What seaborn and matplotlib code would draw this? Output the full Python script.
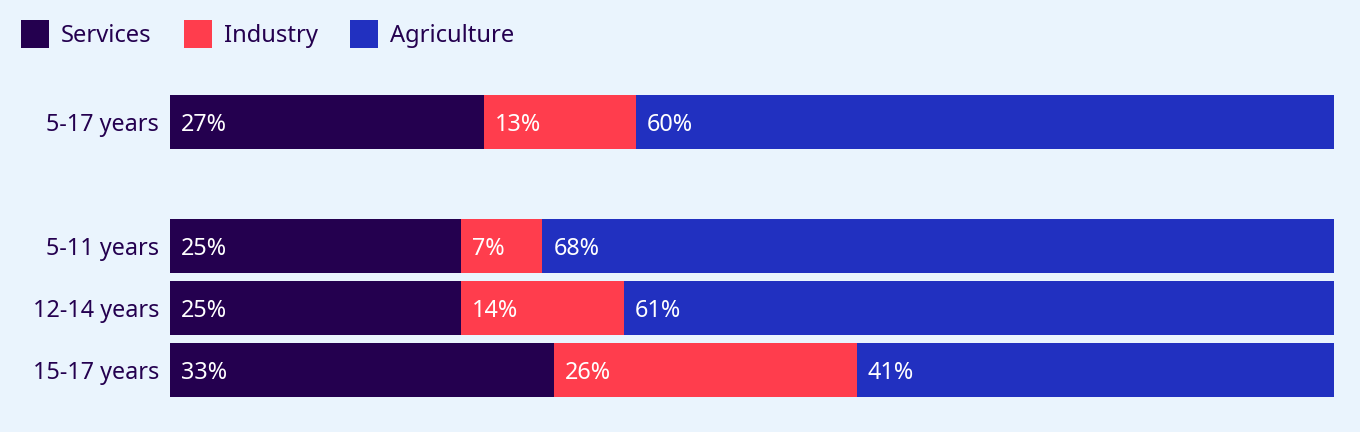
import pandas as pd
import matplotlib
matplotlib.use("Agg")
import matplotlib.pyplot as plt
import seaborn as sns

# data
groups = ["5-17 years", "5-11 years", "12-14 years", "15-17 years"]
services = [27, 25, 25, 33]
industry = [13, 7, 14, 26]
agriculture = [60, 68, 61, 41]
sectors = ["Services", "Industry", "Agriculture"]

# a blank slot separates the total from the age breakdown
order = ["5-17 years", " ", "5-11 years", "12-14 years", "15-17 years"]

colors = {"Services": "#24004F", "Industry": "#FF3D4D", "Agriculture": "#2130C0"}
bg = "#EAF4FD"
ink = "#24004F"
fs = 16.8

sns.set_theme(style="white")
plt.rcParams["font.family"] = ["Noto Sans", "DejaVu Sans"]

df = pd.DataFrame({
    "group": groups,
    "Services": services,
    "Industry": industry,
    "Agriculture": agriculture,
})
df["cum_ind"] = df["Services"] + df["Industry"]
df["cum_agr"] = df["cum_ind"] + df["Agriculture"]

fig = plt.figure(figsize=(13.6, 4.32), dpi=100, facecolor=bg)
ax = fig.add_axes([170 / 1360, 31 / 432, 1164 / 1360, 310 / 432])
ax.set_facecolor(bg)

bar_w = 0.87
# stacked bars: draw the running totals from the longest down
for col, name in [("cum_agr", "Agriculture"), ("cum_ind", "Industry"), ("Services", "Services")]:
    sns.barplot(data=df, x=col, y="group", order=order, orient="h",
                color=colors[name], width=bar_w, saturation=1,
                linewidth=0, label=name, ax=ax)

if ax.get_legend() is not None:
    ax.get_legend().remove()

# value labels at the start of each segment
for _, row in df.iterrows():
    y = order.index(row["group"])
    start = 0
    for name in sectors:
        ax.annotate(f"{row[name]}%", xy=(start, y), xytext=(7.8, 0),
                    textcoords="offset points", ha="left", va="center_baseline",
                    color="white", fontsize=fs)
        start += row[name]

ax.set_xlim(0, 100)
ax.set_ylim(4.5, -0.5)
ax.set_xlabel("")
ax.set_ylabel("")
ax.set_xticks([])
ax.tick_params(axis="y", length=0, pad=8, labelsize=fs, labelcolor=ink)
sns.despine(ax=ax, left=True, bottom=True)

handles, labels = ax.get_legend_handles_labels()
lookup = dict(zip(labels, handles))
leg_fs = 17.1
leg = fig.legend([lookup[s] for s in sectors], sectors,
                 loc="upper left", bbox_to_anchor=(21 / 1360, 1 - 20 / 432),
                 ncol=3, frameon=False, fontsize=leg_fs, borderpad=0,
                 handlelength=1.18, handleheight=1.44, handletextpad=0.5,
                 columnspacing=1.36, borderaxespad=0)
for t in leg.get_texts():
    t.set_color(ink)

fig.savefig("out.png", dpi=100, facecolor=bg)
